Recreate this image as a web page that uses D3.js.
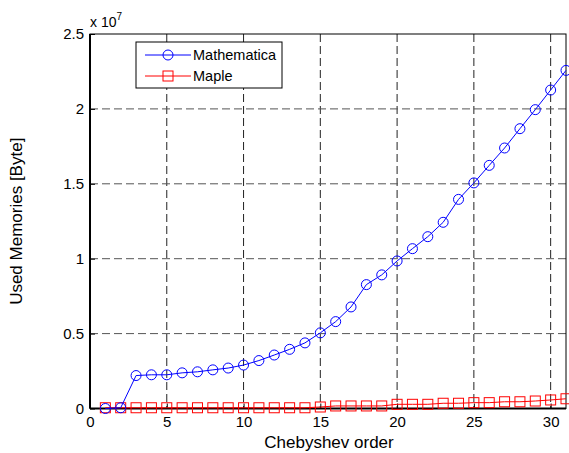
<!DOCTYPE html>
<html>
<head>
<meta charset="utf-8">
<script src="https://cdn.jsdelivr.net/npm/d3@7"></script>
<style>
  body { margin: 0; background: #fff; }
  text { font-family: "Liberation Sans", Arial, sans-serif; }
</style>
</head>
<body>
<div id="chart"></div>
<script>
// Chebyshev order
const orders = d3.range(1, 32);
// used memory, units of 1e7 bytes
const mathematica = [0.0, 0.005, 0.22, 0.225, 0.225, 0.238, 0.245, 0.258, 0.27, 0.29,
  0.32, 0.357, 0.395, 0.438, 0.505, 0.58, 0.678, 0.827, 0.892, 0.985,
  1.067, 1.147, 1.243, 1.396, 1.506, 1.623, 1.739, 1.868, 1.995, 2.126, 2.257];
const maple = [0.005, 0.005, 0.005, 0.005, 0.005, 0.005, 0.005, 0.005, 0.005, 0.005,
  0.005, 0.005, 0.005, 0.005, 0.01, 0.017, 0.017, 0.017, 0.017, 0.028,
  0.028, 0.028, 0.035, 0.035, 0.039, 0.039, 0.045, 0.045, 0.05, 0.057, 0.065];
const xTicks = [0, 5, 10, 15, 20, 25, 30];
const yTicks = [0, 0.5, 1, 1.5, 2, 2.5];

const margin = { top: 34, right: 3, bottom: 44.5, left: 90 };
const W = 569, H = 453;
const width = W - margin.left - margin.right;
const height = H - margin.top - margin.bottom;

const svg = d3.select("#chart").append("svg")
  .attr("width", W).attr("height", H);
const g = svg.append("g").attr("transform", `translate(${margin.left},${margin.top})`);

const x = d3.scaleLinear().domain([0, 31]).range([0, width]);
const y = d3.scaleLinear().domain([0, 2.5]).range([height, 0]);

// grid
g.append("g").selectAll("line")
  .data(xTicks.filter(d => d > 0))
  .join("line")
  .attr("x1", d => x(d)).attr("x2", d => x(d))
  .attr("y1", 0).attr("y2", height)
  .attr("stroke", "#222").attr("stroke-dasharray", "8,4");
g.append("g").selectAll("line")
  .data(yTicks.filter(d => d > 0 && d < 2.5))
  .join("line")
  .attr("x1", 0).attr("x2", width)
  .attr("y1", d => y(d)).attr("y2", d => y(d))
  .attr("stroke", "#555").attr("stroke-dasharray", "8,4");

// axes
const xAxis = g.append("g")
  .attr("transform", `translate(0,${height})`)
  .call(d3.axisBottom(x).tickValues(xTicks).tickSize(-5).tickPadding(8));
const yAxis = g.append("g")
  .call(d3.axisLeft(y).tickValues(yTicks).tickSize(-5).tickPadding(6)
    .tickFormat(d => d === 0 ? "0" : String(d)));
[xAxis, yAxis].forEach(a => {
  a.select(".domain").remove();
  a.selectAll("line").attr("stroke", "#000");
  a.selectAll("text").attr("font-size", 15).attr("fill", "#000")
    .attr("font-family", "Liberation Sans, Arial, sans-serif");
});

// box
g.append("rect").attr("width", width).attr("height", height)
  .attr("fill", "none").attr("stroke", "#000").attr("stroke-width", 1);
g.append("line").attr("x1", 0).attr("x2", 0).attr("y1", 0).attr("y2", height)
  .attr("stroke", "#000").attr("stroke-width", 2);
g.append("line").attr("x1", 0).attr("x2", width).attr("y1", height).attr("y2", height)
  .attr("stroke", "#000").attr("stroke-width", 2);

// series
const series = [
  { name: "Mathematica", values: mathematica, color: "#0000ff", marker: "circle" },
  { name: "Maple", values: maple, color: "#ff0000", marker: "square" }
];
const line = d3.line().x((d, i) => x(orders[i])).y(d => y(d));

const plot = g.append("g");
series.slice().reverse().forEach(s => {
  plot.append("path")
    .attr("d", line(s.values))
    .attr("fill", "none").attr("stroke", s.color).attr("stroke-width", 1);
  if (s.marker === "circle") {
    plot.append("g").selectAll("circle").data(s.values).join("circle")
      .attr("cx", (d, i) => x(orders[i])).attr("cy", d => y(d)).attr("r", 5)
      .attr("fill", "none").attr("stroke", s.color).attr("stroke-width", 1);
  } else {
    plot.append("g").selectAll("rect").data(s.values).join("rect")
      .attr("x", (d, i) => x(orders[i]) - 5).attr("y", d => y(d) - 5)
      .attr("width", 10).attr("height", 10)
      .attr("fill", "none").attr("stroke", s.color).attr("stroke-width", 1);
  }
});

// exponent label
const expo = svg.append("text").attr("x", 90).attr("y", 27).attr("font-size", 14);
expo.append("tspan").text("x 10");
expo.append("tspan").attr("dy", -7).attr("font-size", 10).text("7");

// axis labels
svg.append("text")
  .attr("x", margin.left + width / 2 + 1).attr("y", 448)
  .attr("text-anchor", "middle").attr("font-size", 17)
  .text("Chebyshev order");
svg.append("text")
  .attr("transform", `translate(22,${margin.top + height / 2}) rotate(-90)`)
  .attr("text-anchor", "middle").attr("font-size", 17)
  .text("Used Memories [Byte]");

// legend
const lg = svg.append("g").attr("transform", "translate(136,42)");
lg.append("rect").attr("width", 146).attr("height", 46)
  .attr("fill", "#fff").attr("stroke", "#000").attr("stroke-width", 1);
series.forEach((s, i) => {
  const yy = 13 + i * 21;
  lg.append("line").attr("x1", 9).attr("x2", 55).attr("y1", yy).attr("y2", yy)
    .attr("stroke", s.color);
  if (s.marker === "circle") {
    lg.append("circle").attr("cx", 32).attr("cy", yy).attr("r", 5)
      .attr("fill", "none").attr("stroke", s.color);
  } else {
    lg.append("rect").attr("x", 27).attr("y", yy - 5).attr("width", 10).attr("height", 10)
      .attr("fill", "none").attr("stroke", s.color);
  }
  lg.append("text").attr("x", 57).attr("y", yy + 5).attr("font-size", 14.5).text(s.name);
});
</script>
</body>
</html>
